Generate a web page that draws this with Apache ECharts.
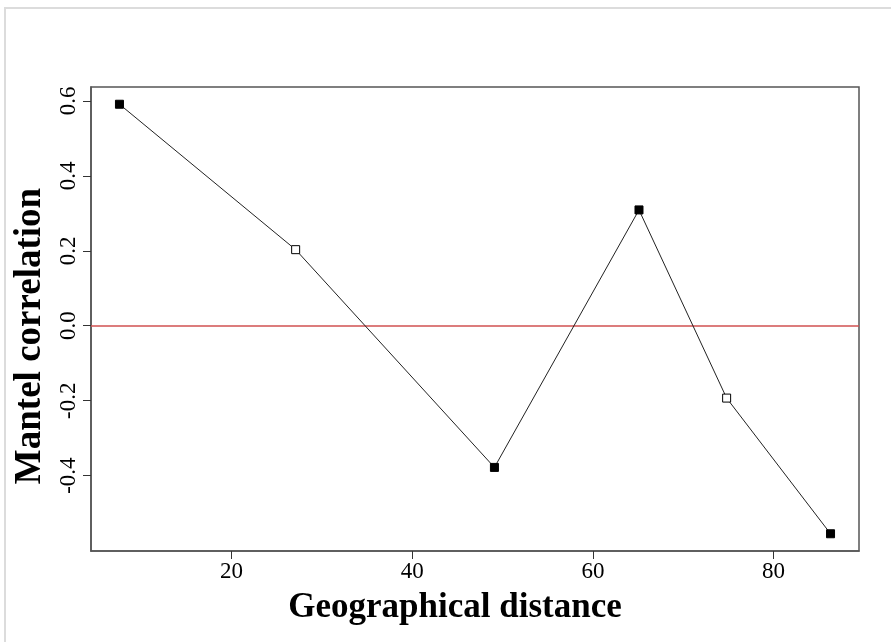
<!DOCTYPE html>
<html>
<head>
<meta charset="utf-8">
<script src="https://cdn.jsdelivr.net/npm/echarts@6/dist/echarts.min.js"></script>
<style>
  html, body { margin: 0; padding: 0; background: #fff; }
  #wrap { position: relative; width: 891px; height: 642px; }
  #chart { position: absolute; left: 0; top: 0; width: 891px; height: 642px; }
  #frame { position: absolute; left: 4px; top: 7px; width: 887px; height: 635px;
           border-left: 2px solid #dcdcdc; border-top: 2px solid #dcdcdc; box-sizing: border-box; pointer-events: none; }
</style>
</head>
<body>
<div id="wrap">
  <div id="chart"></div>
  <div id="frame"></div>
</div>
<script>
// Data
const distance = [7.6, 27.1, 49.1, 65.1, 74.8, 86.3];
const mantelR = [0.591, 0.203, -0.378, 0.309, -0.193, -0.555];
const significant = [true, false, true, true, false, true];
const xTicks = [20, 40, 60, 80];
const yTicks = [-0.4, -0.2, 0.0, 0.2, 0.4, 0.6];
const xTitle = 'Geographical distance';
const yTitle = 'Mantel correlation';

const chart = echarts.init(document.getElementById('chart'), null, { renderer: 'canvas' });
const serif = '"Liberation Serif", "Times New Roman", serif';

const points = distance.map((d, i) => ({
  value: [d, mantelR[i]],
  itemStyle: significant[i]
    ? { color: '#000', borderColor: '#000', borderWidth: 1 }
    : { color: '#fff', borderColor: '#000', borderWidth: 1 }
}));

chart.setOption({
  animation: false,
  backgroundColor: '#fff',
  grid: { left: 91, right: 32, top: 87, bottom: 91, show: true, borderColor: '#555', borderWidth: 1.5, backgroundColor: 'transparent' },
  xAxis: {
    type: 'value', min: 4.45, max: 89.45,
    axisLine: { show: true, onZero: false, lineStyle: { color: '#555', width: 1.5 } },
    axisTick: { show: true, customValues: xTicks, length: 8, lineStyle: { color: '#333', width: 1 } },
    axisLabel: { customValues: xTicks, fontFamily: serif, fontSize: 23, color: '#000', margin: 9 },
    splitLine: { show: false }
  },
  yAxis: {
    type: 'value', min: -0.601, max: 0.637,
    axisLine: { show: true, onZero: false, lineStyle: { color: '#555', width: 1.5 } },
    axisTick: { show: true, customValues: yTicks, length: 8, lineStyle: { color: '#333', width: 1 } },
    axisLabel: { customValues: yTicks, rotate: 90, fontFamily: serif, fontSize: 23, color: '#000', margin: 11,
                 formatter: v => v.toFixed(1) },
    splitLine: { show: false }
  },
  graphic: [
    { type: 'text', x: 455, y: 608, silent: true,
      style: { text: xTitle, font: 'bold 35px ' + serif, fill: '#000', align: 'center', verticalAlign: 'middle' } },
    { type: 'text', x: 30, y: 336, rotation: Math.PI / 2, silent: true,
      style: { text: yTitle, font: 'bold 37px ' + serif, fill: '#000', align: 'center', verticalAlign: 'middle' } }
  ],
  series: [{
    type: 'line',
    data: points,
    symbol: 'rect',
    symbolSize: 8,
    showAllSymbol: true,
    lineStyle: { color: '#222', width: 1 },
    z: 3,
    markLine: {
      silent: true,
      symbol: ['none', 'none'],
      label: { show: false },
      lineStyle: { color: '#d05050', width: 1.5, type: 'solid' },
      data: [{ yAxis: 0 }],
      z: 2
    }
  }]
});
</script>
</body>
</html>
